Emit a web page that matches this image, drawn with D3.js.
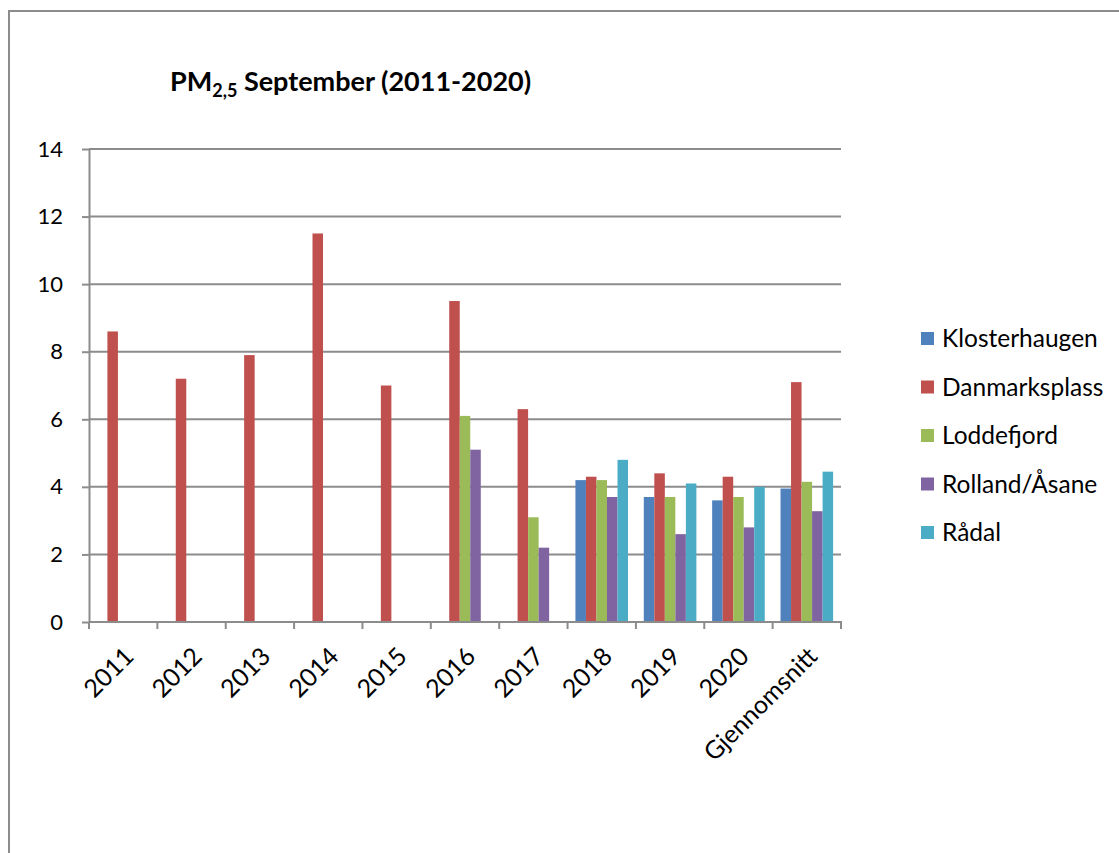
<!DOCTYPE html>
<html>
<head>
<meta charset="utf-8">
<script src="https://cdn.jsdelivr.net/npm/d3@7"></script>
<style>
  body { margin: 0; background: #fff; }
  svg text { font-family: Lato, "Liberation Sans", sans-serif; fill: #000; }
</style>
</head>
<body>
<div class="chart"></div>
<script>
const categories = ["2011", "2012", "2013", "2014", "2015", "2016", "2017", "2018", "2019", "2020", "Gjennomsnitt"];
const seriesNames = ["Klosterhaugen", "Danmarksplass", "Loddefjord", "Rolland/Åsane", "Rådal"];
const seriesColors = ["#4F81BD", "#C0504D", "#9BBB59", "#8064A2", "#4BACC6"];

const klosterhaugen = [null, null, null, null, null, null, null, 4.2, 3.7, 3.6, 3.95];
const danmarksplass = [8.6, 7.2, 7.9, 11.5, 7.0, 9.5, 6.3, 4.3, 4.4, 4.3, 7.1];
const loddefjord = [null, null, null, null, null, 6.1, 3.1, 4.2, 3.7, 3.7, 4.15];
const rollandAasane = [null, null, null, null, null, 5.1, 2.2, 3.7, 2.6, 2.8, 3.28];
const raadal = [null, null, null, null, null, null, null, 4.8, 4.1, 4.0, 4.45];

const yTicks = [0, 2, 4, 6, 8, 10, 12, 14];

const drawChart = () => {
    const w = 1119;
    const h = 853;
    const seriesValues = [klosterhaugen, danmarksplass, loddefjord, rollandAasane, raadal];

    const svg = d3.select(".chart")
        .append("svg")
        .attr("width", w)
        .attr("height", h);

    // outer chart border (runs off the right and bottom edges)
    svg.append("rect")
        .attr("x", 9)
        .attr("y", 11)
        .attr("width", 1300)
        .attr("height", 1000)
        .attr("fill", "none")
        .attr("stroke", "#8c8c8c")
        .attr("stroke-width", 2);

    const x0 = d3.scaleBand()
        .domain(categories)
        .range([89, 841]);
    const x1 = d3.scaleBand()
        .domain(seriesNames)
        .range([0, x0.bandwidth()])
        .paddingOuter(0.75);
    const y = d3.scaleLinear()
        .domain([0, 14])
        .range([622, 149]);
    const color = d3.scaleOrdinal().domain(seriesNames).range(seriesColors);

    // gridlines
    svg.append("g")
        .selectAll("line")
        .data(yTicks.slice(1))
        .enter()
        .append("line")
        .attr("x1", 89)
        .attr("x2", 841)
        .attr("y1", d => y(d))
        .attr("y2", d => y(d))
        .attr("stroke", "#8c8c8c")
        .attr("stroke-width", 2);

    // bars
    const rows = [];
    categories.forEach((c, i) => {
        seriesNames.forEach((s, j) => {
            const v = seriesValues[j][i];
            if (v != null) rows.push({cat: c, series: s, value: v});
        });
    });

    svg.append("g")
        .selectAll("rect")
        .data(rows)
        .enter()
        .append("rect")
        .attr("x", d => x0(d.cat) + x1(d.series))
        .attr("y", d => y(d.value))
        .attr("width", x1.bandwidth())
        .attr("height", d => y(0) - y(d.value))
        .attr("fill", d => color(d.series));

    // y axis
    const yAxis = d3.axisLeft(y)
        .tickValues(yTicks)
        .tickFormat(d3.format("d"))
        .tickSize(7)
        .tickPadding(19)
        .tickSizeOuter(0);
    const yAxisG = svg.append("g")
        .attr("transform", "translate(89,0)")
        .call(yAxis);
    yAxisG.selectAll("line, path").attr("stroke", "#8c8c8c").attr("stroke-width", 2);
    yAxisG.selectAll("text").attr("font-size", 22).attr("font-family", "Lato");

    // x axis line and boundary ticks
    const xAxisG = svg.append("g");
    xAxisG.append("line")
        .attr("x1", 89).attr("x2", 842)
        .attr("y1", y(0)).attr("y2", y(0))
        .attr("stroke", "#8c8c8c").attr("stroke-width", 2);
    xAxisG.selectAll(".tick")
        .data(categories.map(c => x0(c)).concat([x0.range()[1]]))
        .enter()
        .append("line")
        .attr("x1", d => d).attr("x2", d => d)
        .attr("y1", y(0)).attr("y2", y(0) + 7)
        .attr("stroke", "#8c8c8c").attr("stroke-width", 2);

    xAxisG.selectAll("text")
        .data(categories)
        .enter()
        .append("text")
        .attr("transform", d => `translate(${x0(d) + x0.bandwidth() / 2 + 12}, ${y(0) + 36}) rotate(-45)`)
        .attr("text-anchor", "end")
        .attr("font-size", 25)
        .text(d => d);

    // title
    const title = svg.append("text")
        .attr("x", 170)
        .attr("y", 91)
        .attr("font-size", 27)
        .attr("font-weight", "bold");
    title.append("tspan").text("PM");
    title.append("tspan").attr("font-size", 18).attr("dy", 6).text("2,5");
    title.append("tspan").attr("dy", -6).text(" September (2011-2020)");

    // legend
    const ly = d3.scalePoint()
        .domain(seriesNames)
        .range([339, 533]);
    const legend = svg.append("g")
        .selectAll("g")
        .data(seriesNames)
        .enter()
        .append("g")
        .attr("transform", d => `translate(921, ${ly(d)})`);
    legend.append("rect")
        .attr("x", 0).attr("y", -7)
        .attr("width", 13).attr("height", 13)
        .attr("fill", d => color(d));
    legend.append("text")
        .attr("x", 21)
        .attr("y", 8)
        .attr("font-size", 24.5)
        .text(d => d);
};

drawChart();
</script>
</body>
</html>
